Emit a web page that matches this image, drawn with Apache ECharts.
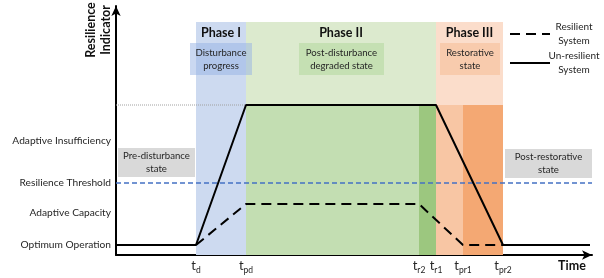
<!DOCTYPE html>
<html><head><meta charset="utf-8">
<script src="https://cdn.jsdelivr.net/npm/echarts@6/dist/echarts.min.js"></script>
<style>html,body{margin:0;padding:0;background:#fff}#c{width:604px;height:278px}</style>
</head><body><div id="c"></div>
<script>
const FONT = 'Lato';
// time markers on the x axis (chart units)
const timeSubs = ['d', 'pd', 'r2', 'r1', 'pr1', 'pr2'];
const timeValues = [80, 130, 303, 320, 347, 387];
const xMax = 476, yMax = 249, xEnd = 474;
// levels on the y axis
const levelNames = ['Optimum Operation', 'Adaptive Capacity', 'Resilience Threshold', 'Adaptive Insufficiency'];
const levelValues = [10, 42, 72, 114];
const thresholdValue = 72;
const peakValue = 150;
const phaseTop = 233;
// system curves
const unresilientX = [0, 80, 130, 320, 387, xEnd];
const unresilientY = [10, 10, 150, 150, 10, 10];
const resilientX = [80, 130, 303, 347, 387];
const resilientY = [10, 51, 51, 10, 10];
// phases
const phaseNames = ['Phase I', 'Phase II', 'Phase III'];
const phaseStart = [80, 130, 320];
const phaseEnd = [130, 320, 387];
// sub-bands below the peak
const subStart = [130, 303, 320, 347];
const subEnd = [303, 320, 347, 387];
// state boxes
const boxTexts = ['Pre-disturbance\nstate', 'Disturbance\nprogress', 'Post-disturbance\ndegraded state', 'Restorative\nstate', 'Post-restorative\nstate'];
const boxX0 = [2, 74, 183, 324, 389];
const boxX1 = [79, 136, 268, 384, 477];
const boxY0 = [78, 180, 180, 180, 77];
const boxY1 = [107, 212, 212, 212, 106];
// left-side arrows [from, to]
const arrowFrom = [125, 106, 51, 35];
const arrowTo = [147, 86, 64, 17];
const arrowX = -7;

const phaseColors = ['#cddaf0', '#dceace', '#fbddcb'];
const subColors = ['#c3deb2', '#9cc77f', '#f8c6a4', '#f4a873'];
const boxColors = ['#d9d9d9', 'rgba(150,178,228,0.5)', '#c5e0b3', '#f8cbad', '#d9d9d9'];

const chart = echarts.init(document.getElementById('c'));
const txt = '#262626';

const bandData = [];
phaseNames.forEach((n, i) => bandData.push([
  { xAxis: phaseStart[i], yAxis: 0, itemStyle: { color: phaseColors[i] },
    label: { show: true, position: 'insideTop', distance: 4, formatter: n, fontFamily: FONT, fontWeight: 'bold', fontSize: 12.5, color: '#111' } },
  { xAxis: phaseEnd[i], yAxis: phaseTop }]));
subStart.forEach((s, i) => bandData.push([
  { xAxis: s, yAxis: 0, itemStyle: { color: subColors[i] }, label: { show: false } },
  { xAxis: subEnd[i], yAxis: peakValue }]));

const boxData = boxTexts.map((t, i) => [
  { xAxis: boxX0[i], yAxis: boxY0[i], itemStyle: { color: boxColors[i] },
    label: { show: true, position: 'inside', formatter: t, fontFamily: FONT, fontSize: 9.6, lineHeight: 13, color: txt } },
  { xAxis: boxX1[i], yAxis: boxY1[i] }]);

const arrowData = arrowFrom.map((f, i) => [{ coord: [arrowX, f] }, { coord: [arrowX, arrowTo[i]] }]);

chart.setOption({
  animation: false,
  grid: { left: 116, right: 12, top: 6, bottom: 23 },
  legend: {
    left: 504, top: 17, orient: 'vertical', itemWidth: 40, itemHeight: 12, itemGap: 5,
    itemStyle: { opacity: 0 },
    data: ['Resilient System', 'Un-resilient System'],
    formatter: n => n.split(' ').map(s => '{a|' + s + '}').join('\n'),
    textStyle: { rich: { a: { fontFamily: FONT, fontSize: 10, lineHeight: 14, color: txt, width: 38, align: 'center' } } }
  },
  xAxis: {
    type: 'value', min: 0, max: xMax,
    axisLine: { show: true, symbol: ['none', 'arrow'], symbolSize: [7, 10], lineStyle: { color: '#000', width: 2 } },
    axisTick: { show: false }, splitLine: { show: false },
    axisLabel: {
      customValues: timeValues, margin: 4,
      formatter: v => '{t|t}{s|' + timeSubs[timeValues.indexOf(v)] + '}',
      rich: {
        t: { fontFamily: FONT, fontSize: 13, lineHeight: 16, verticalAlign: 'top', color: txt },
        s: { fontFamily: FONT, fontSize: 8.5, lineHeight: 9, verticalAlign: 'bottom', color: txt }
      }
    }
  },
  yAxis: {
    type: 'value', min: 0, max: yMax,
    axisLine: { show: true, symbol: ['none', 'arrow'], symbolSize: [7, 10], lineStyle: { color: '#000', width: 2 } },
    axisTick: { show: false }, splitLine: { show: false },
    axisLabel: {
      customValues: levelValues, margin: 5,
      formatter: v => levelNames[levelValues.indexOf(v)],
      fontFamily: FONT, fontSize: 10.2, color: txt
    }
  },
  graphic: [
    { type: 'text', x: 98, y: 30, rotation: Math.PI / 2,
      style: { text: 'Resilience\nIndicator', fontFamily: FONT, fontWeight: 'bold', fontSize: 12.5, lineHeight: 15, align: 'center', verticalAlign: 'middle', fill: '#111' } },
    { type: 'text', x: 572, y: 266,
      style: { text: 'Time', fontFamily: FONT, fontWeight: 'bold', fontSize: 12.5, align: 'center', verticalAlign: 'middle', fill: '#111' } }
  ],
  series: [
    { type: 'line', data: [], z: 1, silent: true, markArea: { silent: true, data: bandData } },
    { type: 'line', data: [], z: 2, silent: true, markArea: { silent: true, data: boxData } },
    { type: 'line', z: 3, symbol: 'none', silent: true, clip: false,
      data: [[0, peakValue], [130, peakValue]], lineStyle: { color: '#a0a0a0', width: 1, type: [1, 1] },
      markLine: { silent: true, symbol: ['none', 'arrow'], symbolSize: [5, 6], label: { show: false },
        lineStyle: { color: '#000', width: 1, type: 'solid' }, data: arrowData } },
    { type: 'line', z: 3, symbol: 'none', silent: true,
      data: [[0, thresholdValue], [xEnd + 2, thresholdValue]], lineStyle: { color: '#4472c4', width: 1.5, type: [5, 3] } },
    { name: 'Un-resilient System', type: 'line', z: 5, symbol: 'none', color: '#000',
      data: unresilientX.map((x, i) => [x, unresilientY[i]]), lineStyle: { color: '#000', width: 2 } },
    { name: 'Resilient System', type: 'line', z: 6, symbol: 'none', color: '#000',
      data: resilientX.map((x, i) => [x, resilientY[i]]), lineStyle: { color: '#000', width: 2, type: [10, 6] } }
  ]
});
</script></body></html>
